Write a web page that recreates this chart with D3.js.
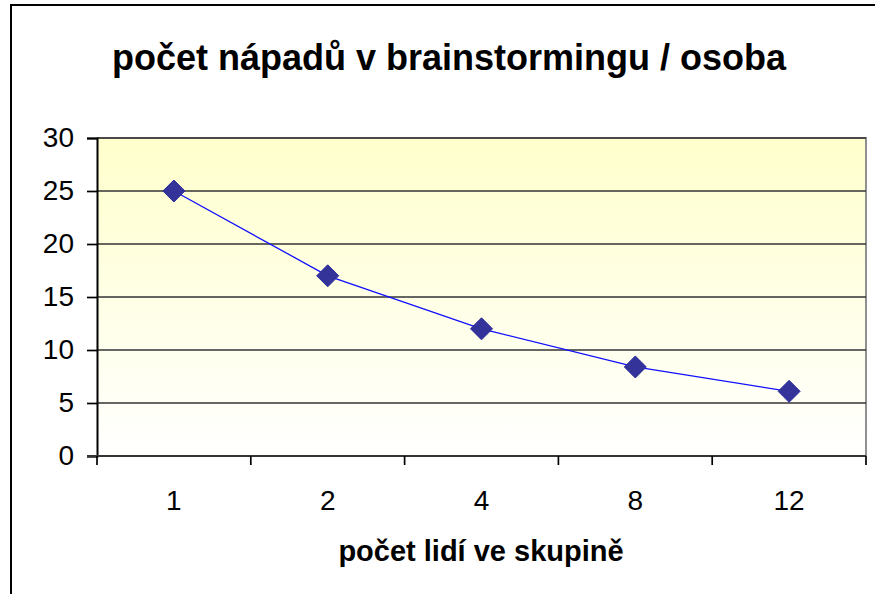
<!DOCTYPE html>
<html>
<head>
<meta charset="utf-8">
<script src="https://cdn.jsdelivr.net/npm/d3@7"></script>
<style>
  html, body { margin: 0; padding: 0; background: #fff; }
  svg { display: block; font-family: Arial, "Liberation Sans", sans-serif; }
</style>
</head>
<body>
<script>
const title = "počet nápadů v brainstormingu / osoba";
const xTitle = "počet lidí ve skupině";
const categories = ["1", "2", "4", "8", "12"];
const values = [25, 17, 12, 8.4, 6.1];
const yTicks = [0, 5, 10, 15, 20, 25, 30];

const W = 875, H = 594;
const svg = d3.select("body").append("svg").attr("width", W).attr("height", H);

// outer frame
svg.append("rect").attr("x", 11).attr("y", 5).attr("width", W + 10).attr("height", H + 10)
  .attr("fill", "#fff").attr("stroke", "#000").attr("stroke-width", 2);

const plot = { left: 97, right: 866, top: 138, bottom: 456 };

const x = d3.scaleBand().domain(categories).range([plot.left, plot.right]).padding(0);
const y = d3.scaleLinear().domain([0, 30]).range([plot.bottom, plot.top]);

const defs = svg.append("defs");
const grad = defs.append("linearGradient").attr("id", "bg").attr("x1", 0).attr("y1", 0).attr("x2", 0).attr("y2", 1);
grad.append("stop").attr("offset", "0%").attr("stop-color", "#FFFFCC");
grad.append("stop").attr("offset", "100%").attr("stop-color", "#FFFFFF");

svg.append("rect").attr("x", plot.left).attr("y", plot.top)
  .attr("width", plot.right - plot.left).attr("height", plot.bottom - plot.top)
  .attr("fill", "url(#bg)");

// plot border right/top (gray)
svg.append("path")
  .attr("d", `M${plot.left},${plot.top}H${plot.right}V${plot.bottom}`)
  .attr("fill", "none").attr("stroke", "#909090").attr("stroke-width", 2);

// gridlines
svg.append("g").selectAll("line").data(yTicks.filter(d => d > 0)).join("line")
  .attr("x1", plot.left).attr("x2", plot.right)
  .attr("y1", d => y(d)).attr("y2", d => y(d))
  .attr("stroke", "#333").attr("stroke-width", 1.7);

// y axis
const yAxis = d3.axisLeft(y).tickValues(yTicks).tickSize(10).tickPadding(13);
const gy = svg.append("g").attr("transform", `translate(${plot.left},0)`).call(yAxis);
gy.select(".domain").attr("stroke", "#000").attr("stroke-width", 2);
gy.selectAll(".tick line").attr("stroke", "#000").attr("stroke-width", 1.7);
gy.selectAll(".tick text").attr("font-size", 28).attr("fill", "#000")
  .attr("font-family", "Arial, 'Liberation Sans', sans-serif");

// x axis with ticks at category boundaries
const gx = svg.append("g").attr("transform", `translate(0,${plot.bottom})`);
gx.append("line").attr("x1", plot.left - 10).attr("x2", plot.right)
  .attr("y1", 0).attr("y2", 0).attr("stroke", "#333").attr("stroke-width", 2);
const bounds = categories.map(c => x(c)).concat([x(categories[categories.length - 1]) + x.bandwidth()]);
gx.selectAll("line.tk").data(bounds).join("line").attr("class", "tk")
  .attr("x1", d => d).attr("x2", d => d).attr("y1", 0).attr("y2", 9)
  .attr("stroke", "#000").attr("stroke-width", 1.7);
gx.selectAll("text").data(categories).join("text")
  .attr("x", d => x(d) + x.bandwidth() / 2).attr("y", 54)
  .attr("text-anchor", "middle").attr("font-size", 28).attr("fill", "#000")
  .text(d => d);

// line
const line = d3.line().x((d, i) => x(categories[i]) + x.bandwidth() / 2).y(d => y(d));
svg.append("path").datum(values).attr("d", line)
  .attr("fill", "none").attr("stroke", "#1010FF").attr("stroke-width", 1.3);

// markers
svg.append("g").selectAll("path").data(values).join("path")
  .attr("transform", (d, i) => `translate(${x(categories[i]) + x.bandwidth() / 2},${y(d)})`)
  .attr("d", "M0,-11L11,0L0,11L-11,0Z")
  .attr("fill", "#333399").attr("stroke", "#2a2a9a").attr("stroke-width", 1);

// titles
svg.append("text").attr("x", 449).attr("y", 70).attr("text-anchor", "middle")
  .attr("font-size", 36).attr("font-weight", "bold").attr("fill", "#000").text(title);
svg.append("text").attr("x", 481).attr("y", 561).attr("text-anchor", "middle")
  .attr("font-size", 29).attr("font-weight", "bold").attr("fill", "#000").text(xTitle);
</script>
</body>
</html>
